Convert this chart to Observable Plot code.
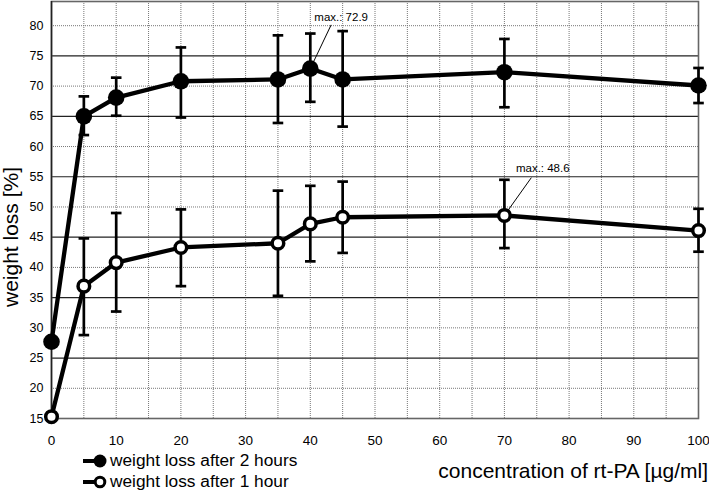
<!DOCTYPE html>
<html>
<head>
<meta charset="utf-8">
<script src="https://cdn.jsdelivr.net/npm/d3@7"></script>
<script src="https://cdn.jsdelivr.net/npm/@observablehq/plot@0.6"></script>
<style>
  html, body { margin: 0; padding: 0; background: #fff; }
  #wrap { position: relative; width: 709px; height: 491px; font-family: "Liberation Sans", Arial, Helvetica, sans-serif; color: #000; }
  #chart svg { display: block; }
  .legend { position: absolute; left: 82px; top: 450px; font-size: 17.3px; line-height: 21px; }
  .legend .row { display: flex; align-items: center; height: 21px; }
  .legend svg { margin-right: 3px; }
  .xlabel { position: absolute; right: 1px; top: 459px; font-size: 21px; line-height: 24px; white-space: nowrap; }
</style>
</head>
<body>
<div id="wrap">
  <div id="chart"></div>
  <div class="legend">
    <div class="row"><svg width="25" height="16"><line x1="1" y1="8" x2="16" y2="8" stroke="#000" stroke-width="4"/><circle cx="18" cy="8" r="6.5" fill="#000"/></svg><span>weight loss after 2 hours</span></div>
    <div class="row"><svg width="25" height="16"><line x1="1" y1="8" x2="14" y2="8" stroke="#000" stroke-width="4"/><circle cx="18" cy="8" r="4.8" fill="#fff" stroke="#000" stroke-width="3"/></svg><span>weight loss after 1 hour</span></div>
  </div>
  <div class="xlabel">concentration of rt-PA [µg/ml]</div>
</div>
<script>
// ---- data ----
const conc      = [0, 5, 10, 20, 35, 40, 45, 70, 100];
const loss2h    = [27.7, 65.0, 68.1, 70.8, 71.1, 72.9, 71.1, 72.3, 70.1];
const loss2hLo  = [null, 61.9, 65.1, 64.8, 63.9, 67.4, 63.3, 66.5, 67.2];
const loss2hHi  = [null, 68.3, 71.4, 76.4, 78.4, 78.7, 79.1, 77.8, 73.0];
const loss1h    = [15.3, 36.9, 40.8, 43.3, 44.0, 47.2, 48.3, 48.6, 46.1];
const loss1hLo  = [null, 28.8, 32.7, 36.9, 35.3, 41.0, 42.4, 43.2, 42.6];
const loss1hHi  = [null, 44.8, 49.0, 49.6, 52.7, 53.5, 54.2, 54.5, 49.7];
const yTicks    = [15, 20, 25, 30, 35, 40, 45, 50, 55, 60, 65, 70, 75, 80];
const xTicks    = [0, 10, 20, 30, 40, 50, 60, 70, 80, 90, 100];
const ySolid    = [25, 35, 45, 55, 65, 75];
const yDotted   = [20, 30, 40, 50, 60, 70, 80];
const xDotted   = [5, 10, 15, 20, 25, 30, 35, 40, 45, 50, 55, 60, 65, 70, 75, 80, 85, 90, 95];
const max2h     = {x: 40, y: 72.9, label: "max.: 72.9"};
const max1h     = {x: 70, y: 48.6, label: "max.: 48.6"};
const yLabel    = "weight loss [%]";

const s2 = conc.map((c, i) => ({x: c, y: loss2h[i], lo: loss2hLo[i], hi: loss2hHi[i]}));
const s1 = conc.map((c, i) => ({x: c, y: loss1h[i], lo: loss1hLo[i], hi: loss1hHi[i]}));
const e2 = s2.filter(d => d.lo != null);
const e1 = s1.filter(d => d.lo != null);

const capSymbol = {draw(ctx, size) { const w = Math.sqrt(size / Math.PI); ctx.moveTo(-w, 0); ctx.lineTo(w, 0); }};
const leader = {draw(ctx, l) { ctx.moveTo(0, 0); ctx.lineTo(0, -l); }};

const font = "Liberation Sans, Arial, Helvetica, sans-serif";

const chart = Plot.plot({
  width: 709,
  height: 450,
  marginLeft: 51,
  marginRight: 11,
  marginTop: 1,
  marginBottom: 32,
  style: {fontFamily: font, color: "#000", background: "#fff", overflow: "visible"},
  x: {domain: [0, 100], ticks: xTicks, tickSize: 0, tickPadding: 17, label: null},
  y: {domain: [15, 84], ticks: yTicks, tickSize: 0, tickPadding: 8, label: null},
  marks: [
    // grid
    Plot.ruleX(xDotted, {stroke: "#777", strokeWidth: 1, strokeDasharray: "1,1"}),
    Plot.ruleY(yDotted, {stroke: "#777", strokeWidth: 1, strokeDasharray: "1,1"}),
    Plot.ruleY(ySolid, {stroke: "#222", strokeWidth: 1.2}),
    Plot.frame({stroke: "#666", strokeWidth: 1.6}),
    Plot.ruleX([0], {stroke: "#222", strokeWidth: 1.5}),
    Plot.axisX({ticks: xTicks, tickSize: 0, tickPadding: 17, fontSize: 13.5, label: null}),
    Plot.axisY({ticks: yTicks, tickSize: 0, tickPadding: 8, fontSize: 12.5, label: null}),
    Plot.text([yLabel], {frameAnchor: "left", text: d => d, rotate: -90, textAnchor: "middle", dx: -40, dy: 27, fontSize: 21, fill: "#000"}),
    // error bars
    Plot.ruleX(e2, {x: "x", y1: "lo", y2: "hi", stroke: "#000", strokeWidth: 2.7}),
    Plot.dot(e2, {x: "x", y: "lo", symbol: capSymbol, r: 5.3, stroke: "#000", strokeWidth: 2.7, fill: "none"}),
    Plot.dot(e2, {x: "x", y: "hi", symbol: capSymbol, r: 5.3, stroke: "#000", strokeWidth: 2.7, fill: "none"}),
    Plot.ruleX(e1, {x: "x", y1: "lo", y2: "hi", stroke: "#000", strokeWidth: 2.7}),
    Plot.dot(e1, {x: "x", y: "lo", symbol: capSymbol, r: 5.3, stroke: "#000", strokeWidth: 2.7, fill: "none"}),
    Plot.dot(e1, {x: "x", y: "hi", symbol: capSymbol, r: 5.3, stroke: "#000", strokeWidth: 2.7, fill: "none"}),
    // lines
    Plot.line(s2, {x: "x", y: "y", stroke: "#000", strokeWidth: 4.3}),
    Plot.line(s1, {x: "x", y: "y", stroke: "#000", strokeWidth: 4.3}),
    // annotations
    Plot.vector([max2h], {x: "x", y: "y", anchor: "start", length: 48, rotate: 25.5, shape: leader, stroke: "#000", strokeWidth: 0.9}),
    Plot.vector([max1h], {x: "x", y: "y", anchor: "start", length: 46, rotate: 35.5, shape: leader, stroke: "#000", strokeWidth: 0.9}),
    Plot.text([max2h], {x: "x", y: "y", text: "label", dx: 4, dy: -51, textAnchor: "start", fontSize: 11.5, fill: "#000"}),
    Plot.text([max1h], {x: "x", y: "y", text: "label", dx: 11.5, dy: -47, textAnchor: "start", fontSize: 11.5, fill: "#000"}),
    // markers
    Plot.dot(s2, {x: "x", y: "y", r: 8.3, fill: "#000", stroke: "none"}),
    Plot.dot(s1, {x: "x", y: "y", r: 5.8, fill: "#fff", stroke: "#000", strokeWidth: 3.5})
  ]
});
document.getElementById("chart").appendChild(chart);
</script>
</body>
</html>
